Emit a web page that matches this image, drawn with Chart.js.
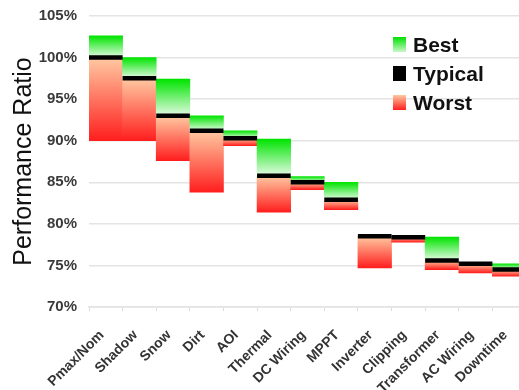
<!DOCTYPE html>
<html>
<head>
<meta charset="utf-8">
<script src="https://cdn.jsdelivr.net/npm/chart.js@4"></script>
<style>
  html, body { margin: 0; padding: 0; background: #fff; overflow: hidden; }
  #wrap { position: relative; width: 519px; height: 390px; overflow: hidden; }
  #c { position: absolute; left: 0; top: 0; }
  .legend { position: absolute; left: 393px; top: 30px; font: bold 21px "Liberation Sans", Arial, sans-serif; color: #111; }
  .item { display: flex; align-items: center; height: 29px; }
  .sw { width: 13px; height: 15px; margin-right: 7px; flex: none; }
</style>
</head>
<body>
<div id="wrap">
  <canvas id="c" width="526" height="390"></canvas>
  <div class="legend">
    <div class="item"><span class="sw" style="background:linear-gradient(#00e000,#c8f8c8)"></span>Best</div>
    <div class="item"><span class="sw" style="background:#000"></span>Typical</div>
    <div class="item"><span class="sw" style="background:linear-gradient(#ffc8a0,#ff2020)"></span>Worst</div>
  </div>
</div>
<script>
// Loss categories along the PV system chain
const categories = ['Pmax/Nom', 'Shadow', 'Snow', 'Dirt', 'AOI', 'Thermal', 'DC Wiring',
                    'MPPT', 'Inverter', 'Clipping', 'Transformer', 'AC Wiring', 'Downtime'];
// Performance ratio (%) after each step
const best    = [102.6, 100.0, 97.4, 93.0, 91.2, 90.2, 85.7, 85.0, 78.5, 78.4, 78.4, 75.2, 75.2];
const typical = [100.0,  97.5, 93.0, 91.2, 90.3, 85.8, 85.0, 82.9, 78.5, 78.4, 75.6, 75.2, 74.5];
const worst   = [ 90.0,  90.0, 87.6, 83.8, 89.4, 81.4, 84.1, 81.7, 74.7, 77.8, 74.5, 74.1, 73.7];
// Y-axis range and tick step (%)
const yMin = 70, yMax = 105, yStep = 5;

Chart.defaults.font.family = '"Liberation Sans", Arial, sans-serif';

// vertical gradient spanning one floating bar
function barGradient(ctx, topColor, bottomColor) {
  const chart = ctx.chart;
  if (!chart.chartArea || ctx.type !== 'data') return topColor;
  const y = chart.scales.y;
  const [lo, hi] = ctx.raw;
  const y0 = y.getPixelForValue(hi), y1 = y.getPixelForValue(lo);
  if (!isFinite(y0) || !isFinite(y1) || y1 - y0 < 0.5) return topColor;
  const g = chart.ctx.createLinearGradient(0, y0, 0, y1);
  g.addColorStop(0, topColor);
  g.addColorStop(1, bottomColor);
  return g;
}

// half of one category slot, so the typical marker spans the full bar
const halfSlot = (ctx) => ctx.chart.chartArea ? ctx.chart.chartArea.width / categories.length / 2 : 16;

new Chart(document.getElementById('c'), {
  data: {
    labels: categories,
    datasets: [
      {
        type: 'line',
        label: 'Typical',
        data: typical,
        showLine: false,
        order: 0,
        pointStyle: 'line',
        pointRadius: halfSlot,
        pointHoverRadius: halfSlot,
        pointBorderWidth: 4.5,
        pointBorderColor: '#000',
        borderColor: '#000',
        backgroundColor: '#000'
      },
      {
        type: 'bar',
        label: 'Best',
        data: categories.map((c, i) => [typical[i], best[i]]),
        order: 1,
        grouped: false,
        barPercentage: 1,
        categoryPercentage: 1,
        backgroundColor: (ctx) => barGradient(ctx, '#00e400', '#e6fbe6')
      },
      {
        type: 'bar',
        label: 'Worst',
        data: categories.map((c, i) => [worst[i], typical[i]]),
        order: 1,
        grouped: false,
        barPercentage: 1,
        categoryPercentage: 1,
        backgroundColor: (ctx) => barGradient(ctx, '#ffcaa2', '#ff1e1e')
      }
    ]
  },
  options: {
    responsive: false,
    animation: false,
    layout: { autoPadding: false, padding: { top: 16, right: 0, left: 0, bottom: 0 } },
    plugins: { legend: { display: false }, tooltip: { enabled: false } },
    scales: {
      x: {
        offset: true,
        grid: { offset: true, drawOnChartArea: false, drawTicks: true, tickLength: 4, color: '#dcdcdc' },
        border: { color: '#e2e2e2', width: 1.5 },
        ticks: {
          autoSkip: false,
          maxRotation: 45, minRotation: 45,
          padding: 16,
          labelOffset: -4,
          color: '#333',
          font: { size: 14, weight: 'bold' }
        },
        afterFit: (s) => { s.height = 83; s.paddingLeft = 0; s.paddingRight = 0; }
      },
      y: {
        min: yMin, max: yMax,
        grid: { color: '#e4e4e4', lineWidth: 1.5, drawTicks: false },
        border: { display: false },
        ticks: {
          stepSize: yStep,
          padding: 12,
          color: '#3a3a3a',
          font: { size: 15, weight: 'bold' },
          callback: (v) => v + '%'
        },
        title: {
          display: true,
          text: 'Performance Ratio',
          color: '#111',
          font: { size: 25 },
          padding: { top: 9, bottom: 0 }
        },
        afterFit: (s) => { s.width = 89; s.paddingTop = 0; s.paddingBottom = 0; }
      }
    }
  }
});
</script>
</body>
</html>
